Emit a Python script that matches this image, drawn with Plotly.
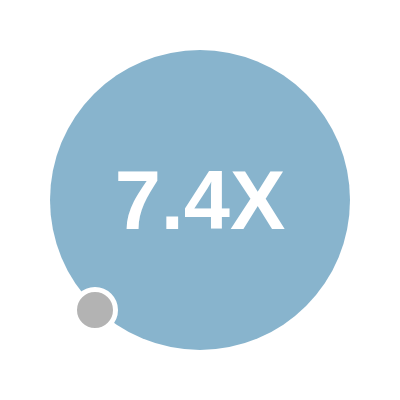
import plotly.graph_objects as go

# Verhältnis-Kennzahl
ratio = 7.4
label = f"{ratio}X"

# Kreise: groß = Vergleichswert, klein = Basis
circle_names = ["vergleich", "basis"]
circle_x = [200, 95]
circle_y = [200, 90]
circle_size = [300, 41]          # Durchmesser in px
circle_color = ["#88b4cd", "#b3b3b3"]
circle_line = [0, 5]

fig = go.Figure()

fig.add_trace(go.Scatter(
    x=circle_x,
    y=circle_y,
    mode="markers",
    marker=dict(size=circle_size, color=circle_color, opacity=1,
                line=dict(color="white", width=circle_line)),
    hoverinfo="skip",
    showlegend=False,
))

fig.add_trace(go.Scatter(
    x=[circle_x[0]],
    y=[192],
    mode="text",
    text=[label],
    textfont=dict(family="Liberation Sans", size=83, color="white", weight="bold"),
    hoverinfo="skip",
    showlegend=False,
))

# Seite hat 8px Rand -> Achsen verschieben, damit Mitte bei 200/200 liegt
fig.update_xaxes(range=[8, 408], visible=False, fixedrange=True)
fig.update_yaxes(range=[-8, 392], visible=False, fixedrange=True)

fig.update_layout(
    width=400, height=400,
    margin=dict(l=0, r=0, t=0, b=0),
    paper_bgcolor="white",
    plot_bgcolor="white",
)

fig.write_html("out.html")
